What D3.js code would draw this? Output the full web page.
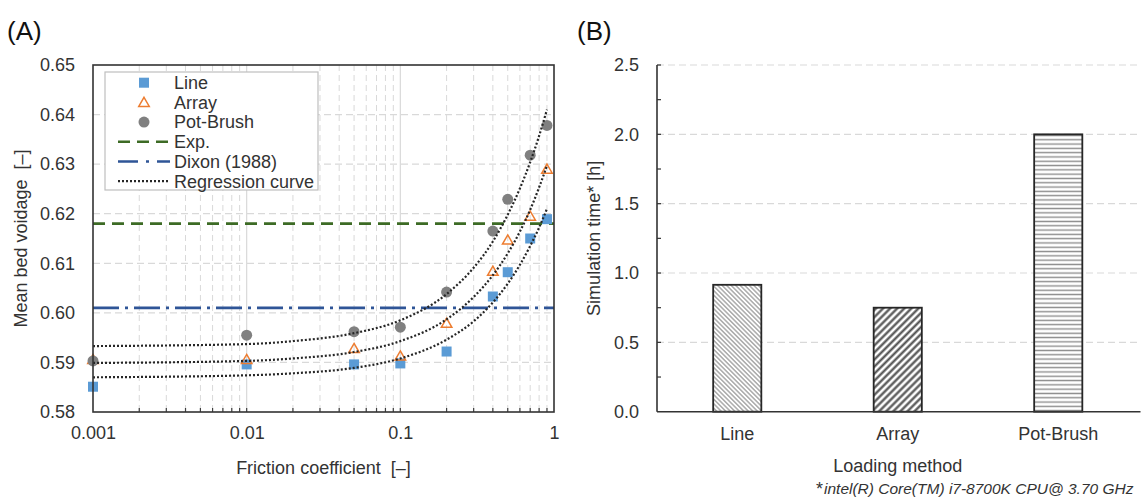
<!DOCTYPE html>
<html>
<head>
<meta charset="utf-8">
<script src="https://cdn.jsdelivr.net/npm/d3@7"></script>
<style>
  body { margin: 0; background: #fff; }
  svg { font-family: "Liberation Sans", Arial, sans-serif; }
  .tick-label { font-size: 18px; fill: #333; }
  .title { font-size: 18px; fill: #333; }
</style>
</head>
<body>
<div id="chart"></div>
<script>
// panel A data (friction coefficient vs mean bed voidage)
let friction = [0.001, 0.01, 0.05, 0.1, 0.2, 0.4, 0.5, 0.7, 0.9]
let voidLine = [0.5851, 0.5896, 0.5896, 0.5898, 0.5922, 0.6033, 0.6082, 0.6150, 0.6189]
let voidArray = [0.5906, 0.5906, 0.5928, 0.5913, 0.5979, 0.6084, 0.6147, 0.6195, 0.6290]
let voidPot = [0.5903, 0.5955, 0.5962, 0.5971, 0.6042, 0.6165, 0.6229, 0.6318, 0.6378]

// regression curves
let fitX = [0.001, 0.01, 0.02, 0.05, 0.1, 0.2, 0.3, 0.4, 0.5, 0.6, 0.7, 0.8, 0.9]
let fitLine = [0.5870, 0.5874, 0.5878, 0.5889, 0.5908, 0.5946, 0.5983, 0.6021, 0.6059, 0.6097, 0.6135, 0.6172, 0.6210]
let fitArray = [0.5899, 0.5903, 0.5908, 0.5921, 0.5943, 0.5987, 0.6032, 0.6076, 0.6120, 0.6164, 0.6208, 0.6253, 0.6297]
let fitPot = [0.5933, 0.5937, 0.5943, 0.5959, 0.5985, 0.6038, 0.6091, 0.6144, 0.6198, 0.6251, 0.6304, 0.6357, 0.6410]

let expValue = 0.618
let dixonValue = 0.601

let yTicksA = [0.58, 0.59, 0.60, 0.61, 0.62, 0.63, 0.64, 0.65]
let xTicksA = [0.001, 0.01, 0.1, 1]

// panel B data
let methods = ["Line", "Array", "Pot-Brush"]
let simTime = [0.915, 0.75, 2.0]
let yTicksB = [0, 0.5, 1.0, 1.5, 2.0, 2.5]

let width = 1148
let height = 500

var svg = d3.select("#chart")
    .append("svg")
    .attr("width", width)
    .attr("height", height)

var defs = svg.append("defs")

function hatch(id, size, angle, stroke, sw){
    var p = defs.append("pattern")
        .attr("id", id)
        .attr("patternUnits", "userSpaceOnUse")
        .attr("width", size)
        .attr("height", size)
        .attr("patternTransform", `rotate(${angle})`)
    p.append("rect").attr("width", size).attr("height", size).attr("fill", "#fff")
    p.append("line")
        .attr("x1", 0).attr("y1", size / 2)
        .attr("x2", size).attr("y2", size / 2)
        .attr("stroke", stroke)
        .attr("stroke-width", sw)
}
hatch("hatchLine", 3.2, 45, "#8a8a8a", 1.1)
hatch("hatchArray", 5, -45, "#4d4d4d", 2.2)
hatch("hatchPot", 4.3, 0, "#8c8c8c", 1.4)

// ---------- Panel A ----------
let leftA = 93, rightA = 554, topA = 65, bottomA = 412

var xA = d3.scaleLog().domain([0.001, 1]).range([leftA, rightA])
var yA = d3.scaleLinear().domain([0.58, 0.65]).range([bottomA, topA])

var gA = svg.append("g")

// minor / major vertical grid
var minorX = []
for (let d = 0.001; d < 1; d *= 10) {
    for (let k = 2; k <= 9; k++) minorX.push(+(d * k).toFixed(4))
}
gA.selectAll(".vminor").data(minorX).enter().append("line")
    .attr("x1", d => xA(d)).attr("x2", d => xA(d))
    .attr("y1", topA).attr("y2", bottomA)
    .attr("stroke", "#d9d9d9").attr("stroke-width", 1)
    .attr("stroke-dasharray", "6,4")
gA.selectAll(".vmajor").data([0.01, 0.1]).enter().append("line")
    .attr("x1", d => xA(d)).attr("x2", d => xA(d))
    .attr("y1", topA).attr("y2", bottomA)
    .attr("stroke", "#d9d9d9").attr("stroke-width", 1.2)
gA.selectAll(".hgrid").data(yTicksA.slice(1, -1)).enter().append("line")
    .attr("x1", leftA).attr("x2", rightA)
    .attr("y1", d => yA(d)).attr("y2", d => yA(d))
    .attr("stroke", "#d9d9d9").attr("stroke-width", 1.2)
    .attr("stroke-dasharray", "7,4")

// axes
var xAxisA = d3.axisBottom(xA).tickValues(xTicksA).tickSize(0).tickPadding(14)
    .tickFormat(d => d === 1 ? "1" : String(d))
gA.append("g")
    .attr("transform", `translate(0, ${bottomA})`)
    .call(xAxisA)
    .call(g => g.select(".domain").remove())
    .selectAll("text").attr("class", "tick-label").attr("font-size", null).attr("fill", null)

var yAxisA = d3.axisLeft(yA).tickValues(yTicksA).tickSize(0).tickPadding(18)
    .tickFormat(d3.format(".2f"))
gA.append("g")
    .attr("transform", `translate(${leftA}, 0)`)
    .call(yAxisA)
    .call(g => g.select(".domain").remove())
    .selectAll("text").attr("class", "tick-label").attr("font-size", null).attr("fill", null)

// inner ticks on bottom
gA.selectAll(".btick").data(minorX.concat([0.01, 0.1])).enter().append("line")
    .attr("x1", d => xA(d)).attr("x2", d => xA(d))
    .attr("y1", bottomA).attr("y2", bottomA - 4)
    .attr("stroke", "#404040").attr("stroke-width", 1.2)

// reference lines
gA.append("line")
    .attr("x1", leftA).attr("x2", rightA)
    .attr("y1", yA(expValue)).attr("y2", yA(expValue))
    .attr("stroke", "#3d6b25").attr("stroke-width", 2.6)
    .attr("stroke-dasharray", "12,7")
gA.append("line")
    .attr("x1", leftA).attr("x2", rightA)
    .attr("y1", yA(dixonValue)).attr("y2", yA(dixonValue))
    .attr("stroke", "#2f5597").attr("stroke-width", 2.6)
    .attr("stroke-dasharray", "26,6,3,6")

// markers
var sq = 10
gA.selectAll(".pLine").data(friction).enter().append("rect")
    .attr("x", (d) => xA(d) - sq / 2)
    .attr("y", (d, i) => yA(voidLine[i]) - sq / 2)
    .attr("width", sq).attr("height", sq)
    .attr("fill", "#5b9bd5")

var tri = d3.symbol().type(d3.symbolTriangle).size(48)
gA.selectAll(".pArray").data(friction).enter().append("path")
    .attr("d", tri)
    .attr("transform", (d, i) => `translate(${xA(d)}, ${yA(voidArray[i]) + 1})`)
    .attr("fill", "none")
    .attr("stroke", "#ed7d31").attr("stroke-width", 1.5)

gA.selectAll(".pPot").data(friction).enter().append("circle")
    .attr("cx", d => xA(d))
    .attr("cy", (d, i) => yA(voidPot[i]))
    .attr("r", 5.5)
    .attr("fill", "#808080")

// regression curves
var fitLineGen = d3.line()
    .x(d => xA(d[0]))
    .y(d => yA(d[1]))
    .curve(d3.curveMonotoneX)
;[fitLine, fitArray, fitPot].forEach(function(vals){
    gA.append("path")
        .attr("d", fitLineGen(fitX.map((x, i) => [x, vals[i]])))
        .attr("fill", "none")
        .attr("stroke", "#262626")
        .attr("stroke-width", 2.2)
        .attr("stroke-dasharray", "2,2")
})

// frame
gA.append("rect")
    .attr("x", leftA).attr("y", topA)
    .attr("width", rightA - leftA).attr("height", bottomA - topA)
    .attr("fill", "none").attr("stroke", "#333").attr("stroke-width", 1.6)

// legend
var lg = gA.append("g")
lg.append("rect")
    .attr("x", 105).attr("y", 72).attr("width", 213).attr("height", 118)
    .attr("fill", "#fff").attr("stroke", "#bfbfbf").attr("stroke-width", 1.2)
let legendNames = ["Line", "Array", "Pot-Brush", "Exp.", "Dixon (1988)", "Regression curve"]
let ly = i => 82.7 + i * 19.7
lg.append("rect").attr("x", 144 - 5).attr("y", ly(0) - 5).attr("width", 10).attr("height", 10).attr("fill", "#5b9bd5")
lg.append("path").attr("d", tri).attr("transform", `translate(144, ${ly(1) + 1})`)
    .attr("fill", "none").attr("stroke", "#ed7d31").attr("stroke-width", 1.5)
lg.append("circle").attr("cx", 144).attr("cy", ly(2)).attr("r", 5.5).attr("fill", "#808080")
lg.append("line").attr("x1", 118).attr("x2", 170).attr("y1", ly(3)).attr("y2", ly(3))
    .attr("stroke", "#3d6b25").attr("stroke-width", 2.6).attr("stroke-dasharray", "12,7")
lg.append("line").attr("x1", 118).attr("x2", 170).attr("y1", ly(4)).attr("y2", ly(4))
    .attr("stroke", "#2f5597").attr("stroke-width", 2.6).attr("stroke-dasharray", "20,8,3,8")
lg.append("line").attr("x1", 118).attr("x2", 170).attr("y1", ly(5)).attr("y2", ly(5))
    .attr("stroke", "#262626").attr("stroke-width", 2.2).attr("stroke-dasharray", "2,2")
lg.selectAll(".ltext").data(legendNames).enter().append("text")
    .attr("class", "title")
    .attr("x", 174)
    .attr("y", (d, i) => ly(i))
    .attr("dy", "0.35em")
    .text(d => d)

// titles
svg.append("text").attr("class", "title")
    .attr("text-anchor", "middle")
    .attr("x", (leftA + rightA) / 2).attr("y", 474)
    .text("Friction coefficient\u00a0\u00a0[–]")
svg.append("text").attr("class", "title")
    .attr("text-anchor", "middle")
    .attr("transform", `translate(27, ${(topA + bottomA) / 2}) rotate(-90)`)
    .text("Mean bed voidage\u00a0\u00a0[–]")
svg.append("text").attr("x", 7).attr("y", 40)
    .attr("font-size", 26).attr("fill", "#111").text("(A)")

// ---------- Panel B ----------
let leftB = 657, rightB = 1138.5, topB = 65, bottomB = 411.7

var xB = d3.scaleBand().domain(methods).range([leftB, rightB])
    .paddingInner(0.7).paddingOuter(0.35)
var yB = d3.scaleLinear().domain([0, 2.5]).range([bottomB, topB])

var gB = svg.append("g")

gB.selectAll(".hgridB").data(yTicksB.slice(1)).enter().append("line")
    .attr("x1", leftB).attr("x2", rightB)
    .attr("y1", d => yB(d)).attr("y2", d => yB(d))
    .attr("stroke", "#d9d9d9").attr("stroke-width", 1.2)
    .attr("stroke-dasharray", "7,4")

var yAxisB = d3.axisLeft(yB).tickValues(yTicksB).tickSize(0).tickPadding(18)
    .tickFormat(d3.format(".1f"))
gB.append("g")
    .attr("transform", `translate(${leftB}, 0)`)
    .call(yAxisB)
    .call(g => g.select(".domain").remove())
    .selectAll("text").attr("class", "tick-label").attr("font-size", null).attr("fill", null)

// inner ticks every 0.25
gB.selectAll(".ltickB").data(d3.range(0.25, 2.51, 0.25)).enter().append("line")
    .attr("x1", leftB).attr("x2", leftB + 4)
    .attr("y1", d => yB(d)).attr("y2", d => yB(d))
    .attr("stroke", "#333").attr("stroke-width", 1.2)

var patterns = ["url(#hatchLine)", "url(#hatchArray)", "url(#hatchPot)"]
gB.selectAll(".bar").data(methods).enter().append("rect")
    .attr("x", d => xB(d))
    .attr("y", (d, i) => yB(simTime[i]))
    .attr("width", xB.bandwidth())
    .attr("height", (d, i) => bottomB - yB(simTime[i]))
    .attr("fill", (d, i) => patterns[i])
    .attr("stroke", "#262626").attr("stroke-width", 1.8)

var xAxisB = d3.axisBottom(xB).tickSize(0).tickPadding(16)
gB.append("g")
    .attr("transform", `translate(0, ${bottomB})`)
    .call(xAxisB)
    .call(g => g.select(".domain").remove())
    .selectAll("text").attr("class", "tick-label").attr("font-size", null).attr("fill", null)

// axis lines
gB.append("line").attr("x1", leftB).attr("x2", leftB).attr("y1", topB).attr("y2", bottomB)
    .attr("stroke", "#333").attr("stroke-width", 1.6)
gB.append("line").attr("x1", leftB).attr("x2", rightB + 2).attr("y1", bottomB).attr("y2", bottomB)
    .attr("stroke", "#333").attr("stroke-width", 1.6)

svg.append("text").attr("class", "title")
    .attr("text-anchor", "middle")
    .attr("x", (leftB + rightB) / 2).attr("y", 472)
    .text("Loading method")
svg.append("text").attr("class", "title")
    .attr("text-anchor", "middle")
    .attr("transform", `translate(600, ${(topB + bottomB) / 2}) rotate(-90)`)
    .text("Simulation time* [h]")
svg.append("text").attr("x", 577).attr("y", 40)
    .attr("font-size", 26).attr("fill", "#111").text("(B)")

var note = svg.append("text").attr("x", 816).attr("y", 494).attr("fill", "#333")
note.append("tspan").attr("font-size", 18).attr("dy", 1).text("*")
note.append("tspan").attr("font-size", 15.5).attr("font-style", "italic").attr("dy", -1).attr("dx", 1)
    .text("intel(R) Core(TM) i7-8700K CPU@ 3.70 GHz")
</script>
</body>
</html>
